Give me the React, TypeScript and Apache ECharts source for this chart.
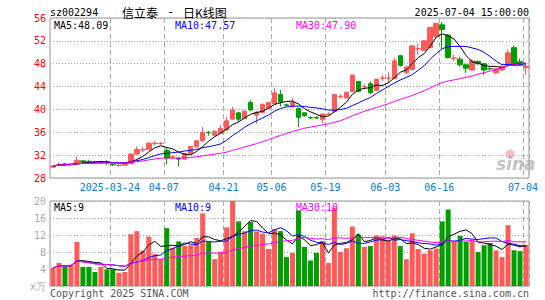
import React, { useEffect, useRef } from "react";
import * as echarts from "echarts";

const dates = [
  "2025-03-10","2025-03-11","2025-03-12","2025-03-13","2025-03-14",
  "2025-03-17","2025-03-18","2025-03-19","2025-03-20","2025-03-21",
  "2025-03-24","2025-03-25","2025-03-26","2025-03-27","2025-03-28",
  "2025-03-31","2025-04-01","2025-04-02","2025-04-03",
  "2025-04-07","2025-04-08","2025-04-09","2025-04-10","2025-04-11",
  "2025-04-14","2025-04-15","2025-04-16","2025-04-17","2025-04-18",
  "2025-04-21","2025-04-22","2025-04-23","2025-04-24","2025-04-25",
  "2025-04-28","2025-04-29","2025-04-30",
  "2025-05-06","2025-05-07","2025-05-08","2025-05-09",
  "2025-05-12","2025-05-13","2025-05-14","2025-05-15","2025-05-16",
  "2025-05-19","2025-05-20","2025-05-21","2025-05-22","2025-05-23",
  "2025-05-26","2025-05-27","2025-05-28","2025-05-29","2025-05-30",
  "2025-06-03","2025-06-04","2025-06-05","2025-06-06",
  "2025-06-09","2025-06-10","2025-06-11","2025-06-12","2025-06-13",
  "2025-06-16","2025-06-17","2025-06-18","2025-06-19","2025-06-20",
  "2025-06-23","2025-06-24","2025-06-25","2025-06-26","2025-06-27",
  "2025-06-30","2025-07-01","2025-07-02","2025-07-03","2025-07-04",
];

const opens = [
  29.9, 30.35, 30.45, 30.3, 30.4, 31.0, 30.85, 30.85, 30.7, 30.85,
  30.4, 30.2, 30.25, 30.5, 32.2, 32.9, 33.0, 34.05, 34.0, 32.8,
  31.6, 31.5, 31.3, 32.3, 33.5, 34.5, 36.0, 35.5, 35.8, 36.4,
  38.3, 39.4, 38.4, 41.2, 39.0, 39.5, 40.2, 41.0, 42.6, 40.8,
  40.5, 40.2, 39.4, 38.6, 38.6, 38.2, 39.15, 39.6, 42.25, 42.0,
  43.15, 44.9, 43.95, 44.5, 43.3, 45.45, 45.45, 45.4, 49.4, 46.4,
  47.0, 50.6, 50.35, 50.8, 52.8, 54.8, 53.0, 48.9, 48.8, 47.8,
  46.9, 48.4, 48.0, 47.15, 46.4, 46.9, 47.8, 50.8, 48.35, 47.3,
];
const closes = [
  30.1, 30.4, 30.4, 30.5, 31.1, 30.8, 30.8, 30.75, 30.9, 30.8,
  30.3, 30.25, 30.5, 32.2, 33.0, 32.95, 34.1, 34.1, 34.05, 31.5,
  31.7, 31.3, 32.3, 33.5, 34.5, 36.0, 35.9, 36.2, 36.7, 38.0,
  39.9, 38.3, 39.7, 39.9, 39.5, 40.9, 41.2, 42.9, 41.3, 40.7,
  41.2, 38.6, 38.9, 38.5, 38.5, 39.2, 39.2, 42.6, 42.3, 43.0,
  46.0, 43.15, 44.0, 42.9, 45.3, 45.5, 45.5, 48.5, 47.7, 47.4,
  51.1, 50.65, 52.0, 54.35, 55.05, 54.0, 49.1, 49.0, 47.8, 47.2,
  48.5, 48.0, 46.9, 47.1, 47.1, 47.5, 49.9, 47.7, 47.8, 47.55,
];
const lows = [
  29.8, 30.1, 30.2, 30.2, 30.3, 30.6, 30.5, 30.6, 30.6, 30.3,
  30.1, 30.0, 30.1, 30.4, 32.0, 32.5, 32.9, 33.7, 33.8, 30.4,
  31.3, 30.0, 31.2, 32.2, 33.3, 34.3, 35.4, 35.3, 35.7, 36.2,
  38.2, 37.9, 38.3, 39.7, 37.5, 39.3, 40.0, 40.8, 40.5, 40.5,
  40.3, 36.9, 38.7, 38.3, 38.3, 37.6, 38.9, 39.5, 41.9, 41.9,
  43.0, 43.0, 43.5, 42.7, 43.2, 45.0, 44.6, 45.3, 47.5, 46.2,
  46.9, 49.6, 50.2, 50.7, 52.5, 50.5, 48.9, 48.5, 47.5, 46.4,
  46.8, 47.8, 46.0, 46.8, 46.2, 46.7, 47.7, 47.6, 47.6, 46.1,
];
const highs = [
  30.2, 30.7, 30.6, 30.6, 31.7, 31.1, 31.2, 31.0, 31.0, 31.1,
  30.5, 30.4, 30.6, 32.3, 33.5, 33.4, 34.3, 34.4, 34.3, 33.3,
  32.0, 31.6, 32.4, 33.6, 34.6, 36.9, 36.2, 36.3, 37.3, 38.7,
  40.5, 39.6, 39.8, 41.6, 39.7, 41.0, 41.3, 43.7, 43.4, 41.0,
  42.0, 40.3, 39.5, 38.8, 38.8, 39.3, 39.5, 42.7, 42.7, 43.1,
  46.1, 45.0, 44.4, 44.9, 45.4, 46.0, 46.5, 49.0, 49.5, 47.7,
  51.3, 51.5, 52.1, 54.4, 55.1, 55.3, 53.2, 49.6, 49.2, 48.0,
  48.8, 48.6, 48.1, 47.4, 47.2, 47.7, 50.5, 51.2, 48.9, 47.8,
];
const volumes = [
  4.2, 5.4, 4.5, 5.0, 10.4, 4.5, 4.5, 3.3, 4.5, 3.9,
  3.9, 3.1, 3.3, 12.2, 12.9, 8.3, 11.6, 7.5, 6.3, 13.6,
  9.0, 10.5, 9.4, 9.6, 11.3, 17.1, 10.4, 6.3, 8.1, 13.8,
  20.0, 15.2, 12.9, 15.1, 12.8, 12.3, 8.7, 13.4, 12.9, 6.8,
  7.8, 17.8, 9.2, 6.0, 7.8, 10.6, 5.4, 18.4, 8.0, 8.9,
  14.0, 12.1, 9.2, 9.4, 11.9, 11.7, 10.7, 11.9, 9.4, 6.3,
  12.4, 8.7, 7.6, 8.4, 8.8, 15.2, 18.0, 10.6, 11.8, 10.4,
  10.7, 8.0, 9.6, 10.1, 8.4, 6.8, 14.3, 8.4, 8.2, 9.7,
];

const tickDates = ["2025-03-24","2025-04-07","2025-04-21","2025-05-06","2025-05-19","2025-06-03","2025-06-16","2025-07-04"];
const tickLabels = ["2025-03-24","04-07","04-21","05-06","05-19","06-03","06-16","07-04"];
const priceLegend = ["MA5:48.09", "MA10:47.57", "MA30:47.90"];
const volLegend = ["MA5:9", "MA10:9", "MA30:10"];
const maPeriods = [5, 10, 30];
const maColors = ["#000000", "#0000ff", "#ff00ff"];

const UP = "#ff5a5a";
const DOWN = "#009f00";
const MONO = '"DejaVu Sans Mono", "Liberation Mono", monospace';

function movingAvg(arr: number[], n: number) {
  return arr.map((_, i) => {
    const s = Math.max(0, i - n + 1);
    let sum = 0;
    for (let j = s; j <= i; j++) sum += arr[j];
    return +(sum / (i - s + 1)).toFixed(3);
  });
}

export default function App() {
  const ref = useRef<HTMLDivElement>(null);
  useEffect(() => {
    if (!ref.current) return;
    const chart = echarts.init(ref.current, null, { renderer: "svg" });
    const tickIdx = new Set(tickDates.map((d) => dates.indexOf(d)));
    const isTick = (i: number) => tickIdx.has(i);
    const candleData = dates.map((_, i) => [opens[i], closes[i], lows[i], highs[i]]);
    const volData = volumes.map((v, i) => ({
      value: v,
      itemStyle: { color: closes[i] >= opens[i] ? UP : DOWN },
    }));
    const vSplit = { show: true, interval: (i: number) => isTick(i), lineStyle: { color: "#aaa", type: [5, 3], width: 1 } };
    const hSplit = { show: true, lineStyle: { color: "#aaa", type: [1, 2], width: 1 } };
    const txt = (text: string, x: number, y: number, fill: string, align = "left", font = `10px ${MONO}`) => ({
      type: "text", x, y, z: 100,
      style: { text, fill, font, align, verticalAlign: "middle", textAlign: align, textVerticalAlign: "middle" },
    });
    const option: any = {
      animation: false,
      grid: [
        { left: 50, top: 18, width: 479, height: 160, show: true, borderColor: "#999", borderWidth: 1 },
        { left: 50, top: 201, width: 479, height: 85, show: true, borderColor: "#999", borderWidth: 1 },
      ],
      xAxis: [
        {
          type: "category", gridIndex: 0, data: dates, boundaryGap: true,
          axisLine: { show: false }, axisTick: { show: false },
          axisLabel: {
            interval: (i: number) => isTick(i),
            formatter: (v: string) => tickLabels[tickDates.indexOf(v)] ?? "",
            color: "#0b7ad1", fontFamily: MONO, fontSize: 10, margin: 4, padding: [0, 6, 0, 0],
          },
          splitLine: vSplit,
        },
        {
          type: "category", gridIndex: 1, data: dates, boundaryGap: true,
          axisLine: { show: false }, axisTick: { show: false }, axisLabel: { show: false },
          splitLine: vSplit,
        },
      ],
      yAxis: [
        {
          type: "value", gridIndex: 0, min: 28, max: 56, interval: 4,
          axisLine: { show: false }, axisTick: { show: false },
          axisLabel: { color: "#ff0000", fontFamily: MONO, fontSize: 10, margin: 4 },
          splitLine: hSplit,
        },
        {
          type: "value", gridIndex: 1, min: 0, max: 20, interval: 4,
          axisLine: { show: false }, axisTick: { show: false },
          axisLabel: {
            color: "#aaa", fontFamily: MONO, fontSize: 10, margin: 4,
            formatter: (v: number) => (v === 0 ? "x万" : String(v)),
          },
          splitLine: hSplit,
        },
      ],
      series: [
        {
          type: "candlestick", xAxisIndex: 0, yAxisIndex: 0, data: candleData, barWidth: 5,
          itemStyle: { color: UP, color0: DOWN, borderColor: UP, borderColor0: DOWN, borderWidth: 1 },
        },
        ...maPeriods.map((p, k) => ({
          type: "line", xAxisIndex: 0, yAxisIndex: 0, data: movingAvg(closes, p),
          symbol: "none", lineStyle: { color: maColors[k], width: 1 }, z: 3,
        })),
        { type: "bar", xAxisIndex: 1, yAxisIndex: 1, data: volData, barWidth: 5 },
        ...maPeriods.map((p, k) => ({
          type: "line", xAxisIndex: 1, yAxisIndex: 1, data: movingAvg(volumes, p),
          symbol: "none", lineStyle: { color: maColors[k], width: 1 }, z: 3,
        })),
      ],
      graphic: [
        txt("sz002294", 50, 12, "#000"),
        txt("信立泰", 122, 12, "#000", "left", '12px "Noto Sans CJK SC"'),
        txt("-", 167, 12, "#000", "left", `12px ${MONO}`),
        txt("日K线图", 183, 12, "#000", "left", '12px "Noto Sans CJK SC"'),
        txt("2025-07-04 15:00:00", 529, 12, "#000", "right"),
        txt(priceLegend[0], 54, 25, maColors[0]),
        txt(priceLegend[1], 175, 25, maColors[1]),
        txt(priceLegend[2], 296, 25, maColors[2]),
        txt(volLegend[0], 54, 207, maColors[0]),
        txt(volLegend[1], 175, 207, maColors[1]),
        txt(volLegend[2], 296, 207, maColors[2]),
        txt("Copyright 2025 SINA.COM", 50, 293, "#555"),
        txt("http://finance.sina.com.cn", 529, 293, "#555", "right"),
        { type: "circle", z: 90, shape: { cx: 510, cy: 154, r: 4.5 }, style: { fill: "rgba(235,110,110,0.45)" } },
        txt("sina", 496, 164, "rgba(170,170,170,0.7)", "left", 'italic bold 17px "DejaVu Sans"'),
      ],
    };
    chart.setOption(option);
    return () => chart.dispose();
  }, []);
  return <div ref={ref} style={{ position: "fixed", left: 0, top: 0, width: 545, height: 300, background: "#fff" }} />;
}
